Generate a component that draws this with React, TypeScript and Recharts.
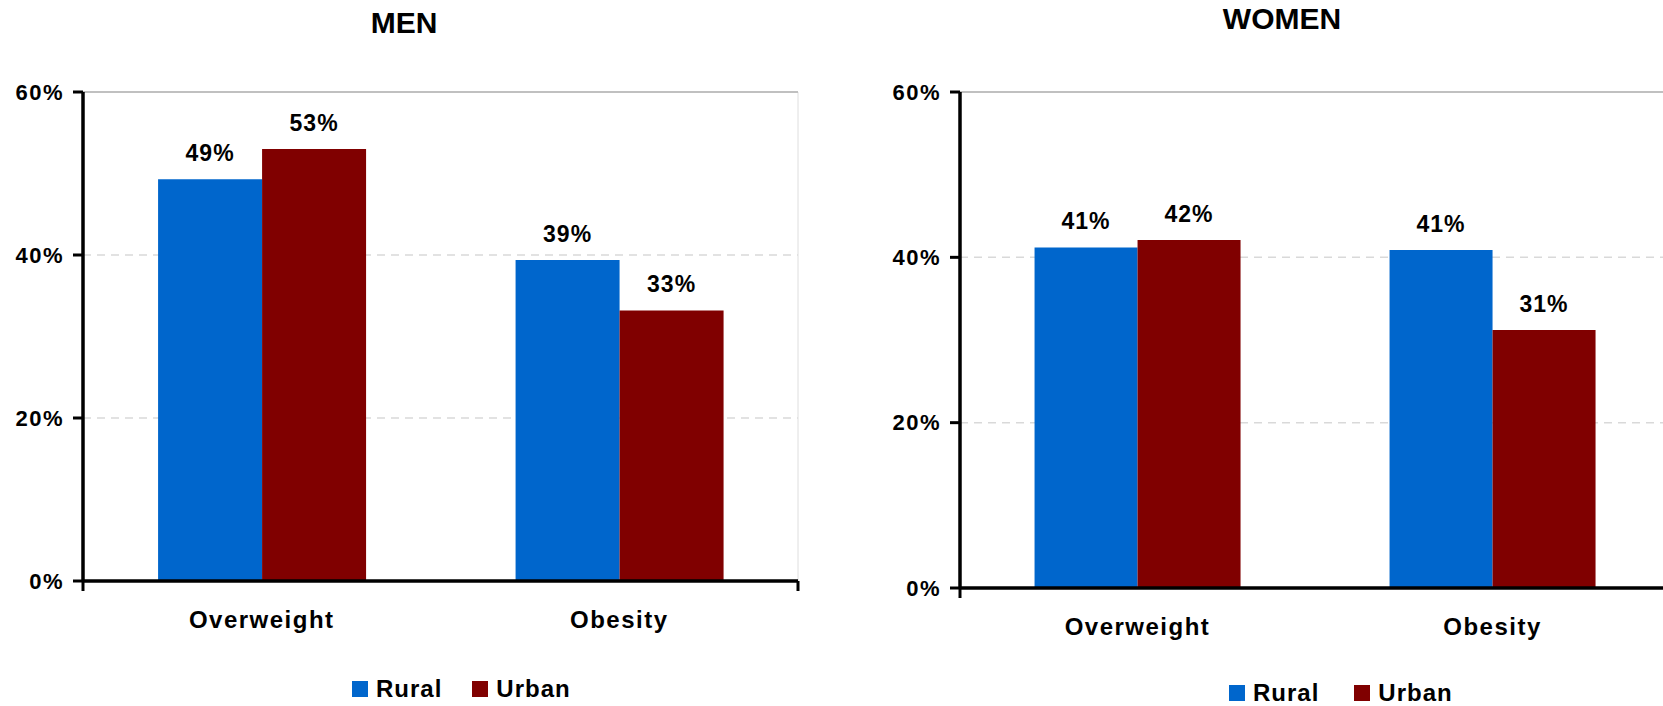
import {
  BarChart,
  Bar,
  XAxis,
  YAxis,
  CartesianGrid,
  ReferenceLine,
  LabelList,
  Legend,
} from "recharts";

const FONT = "'Liberation Sans', Arial, Helvetica, sans-serif";

const categories = ["Overweight", "Obesity"];
const menRural = [49.3, 39.4];
const menUrban = [53.0, 33.2];
const womenRural = [41.2, 40.9];
const womenUrban = [42.1, 31.2];
const yTicks = [0, 20, 40, 60];
const frameTicks = [0, 1, 2];

const RURAL = "#0066cc";
const URBAN = "#800000";

const buildRows = (rural: number[], urban: number[]) =>
  categories.map((category, i) => ({ category, Rural: rural[i], Urban: urban[i] }));

const menData = buildRows(menRural, menUrban);
const womenData = buildRows(womenRural, womenUrban);

const pct = (v: any) => `${Math.round(Number(v))}%`;

const makeLegend = (gap: number) => (props: any) => (
  <div style={{ display: "flex", alignItems: "center", height: 24, fontFamily: FONT }}>
    {(props.payload || []).map((item: any, i: number) => (
      <div
        key={item.value}
        style={{ display: "flex", alignItems: "center", marginLeft: i === 0 ? 0 : gap }}
      >
        <span style={{ width: 16, height: 16, background: item.color, display: "inline-block" }} />
        <span
          style={{
            marginLeft: 8,
            fontSize: 24,
            lineHeight: "24px",
            fontWeight: 700,
            letterSpacing: 1,
            color: "#000",
          }}
        >
          {item.value}
        </span>
      </div>
    ))}
  </div>
);

type PanelProps = {
  data: any[];
  width: number;
  axisWidth: number;
  rightPad: number;
  bottom: number;
  legendLeft: number;
  legendTop: number;
  legendGap: number;
};

// "a" is the boundary axis (ticks between categories), "b" carries the category names
const Panel = ({ data, width, axisWidth, rightPad, bottom, legendLeft, legendTop, legendGap }: PanelProps) => (
  <BarChart
    width={width}
    height={706}
    data={data}
    margin={{ top: 92, right: rightPad, bottom: 0, left: 0 }}
    barCategoryGap="21%"
    barGap={0}
  >
    <CartesianGrid
      yAxisId="v"
      xAxisId="b"
      vertical={false}
      stroke="#d9d9d9"
      strokeWidth={1.5}
      strokeDasharray="8 6"
    />
    <CartesianGrid yAxisId="v" xAxisId="a" horizontal={false} stroke="#dedede" />
    <ReferenceLine yAxisId="v" xAxisId="b" y={60} stroke="#c0c0c0" strokeWidth={2} />
    <ReferenceLine yAxisId="v" xAxisId="a" x={2} stroke="#c0c0c0" strokeWidth={2} />
    <XAxis
      xAxisId="a"
      type="number"
      domain={[0, 2]}
      ticks={frameTicks}
      interval={0}
      allowDataOverflow
      height={1}
      tickFormatter={() => ""}
      tickSize={10}
      tickLine={{ stroke: "#000", strokeWidth: 3 }}
      axisLine={{ stroke: "#000", strokeWidth: 3.5 }}
    />
    <XAxis
      xAxisId="b"
      dataKey="category"
      height={bottom - 1}
      axisLine={false}
      tickLine={false}
      tickSize={0}
      tickMargin={29}
      tick={{ fontSize: 24, fontWeight: 700, fill: "#000", fontFamily: FONT, letterSpacing: 1.5 }}
    />
    <YAxis
      yAxisId="v"
      width={axisWidth}
      domain={[0, 60]}
      ticks={yTicks}
      interval={0}
      tickFormatter={pct}
      tickSize={10}
      tickMargin={9}
      tickLine={{ stroke: "#000", strokeWidth: 3 }}
      axisLine={{ stroke: "#000", strokeWidth: 3.5 }}
      tick={{ fontSize: 22, fontWeight: 700, fill: "#000", fontFamily: FONT, letterSpacing: 1.5 }}
    />
    <Bar xAxisId="b" yAxisId="v" dataKey="Rural" fill={RURAL} isAnimationActive={false}>
      <LabelList
        dataKey="Rural"
        position="top"
        offset={18}
        formatter={pct}
        fontSize={23}
        fontWeight={700}
        fill="#000"
        fontFamily={FONT}
        letterSpacing={1}
      />
    </Bar>
    <Bar xAxisId="b" yAxisId="v" dataKey="Urban" fill={URBAN} isAnimationActive={false}>
      <LabelList
        dataKey="Urban"
        position="top"
        offset={18}
        formatter={pct}
        fontSize={23}
        fontWeight={700}
        fill="#000"
        fontFamily={FONT}
        letterSpacing={1}
      />
    </Bar>
    <Legend
      layout="horizontal"
      verticalAlign="middle"
      align="center"
      content={makeLegend(legendGap)}
      wrapperStyle={{ left: legendLeft, top: legendTop, width: "auto", height: 24 }}
    />
  </BarChart>
);

const titleStyle = (center: number, top: number): React.CSSProperties => ({
  position: "absolute",
  left: center - 150,
  width: 300,
  top,
  textAlign: "center",
  fontFamily: FONT,
  fontWeight: 700,
  fontSize: 30,
  lineHeight: "30px",
  color: "#000",
});

export default function App() {
  return (
    <div
      style={{
        position: "absolute",
        left: 0,
        top: 0,
        width: 1663,
        height: 706,
        overflow: "hidden",
        background: "#fff",
      }}
    >
      <div style={titleStyle(404, 8)}>MEN</div>
      <div style={titleStyle(1282, 4)}>WOMEN</div>
      <div style={{ position: "absolute", left: 0, top: 0 }}>
        <Panel
          data={menData}
          width={830}
          axisWidth={83}
          rightPad={32}
          bottom={125}
          legendLeft={352}
          legendTop={677}
          legendGap={30}
        />
      </div>
      <div style={{ position: "absolute", left: 830, top: 0 }}>
        <Panel
          data={womenData}
          width={845}
          axisWidth={130}
          rightPad={5}
          bottom={118}
          legendLeft={399}
          legendTop={681}
          legendGap={35}
        />
      </div>
    </div>
  );
}
